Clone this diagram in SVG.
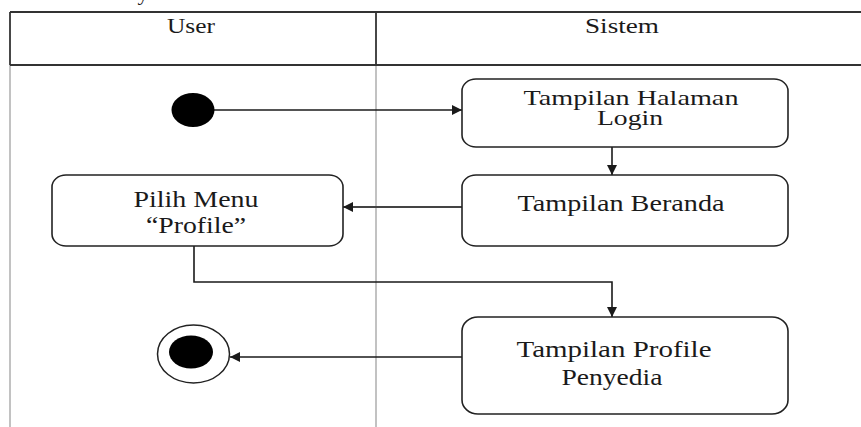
<svg xmlns="http://www.w3.org/2000/svg" width="861" height="427" viewBox="0 0 861 427">
<style>
text{font-family:"Liberation Serif","Times New Roman",serif;fill:#1a1a1a;text-anchor:middle}
.hdr{font-size:21px}
.lbl{font-size:23px}
.box{fill:#fff;stroke:#222;stroke-width:1.6}
.lane{stroke:#999;stroke-width:1.2;fill:none}
.head{stroke:#333;stroke-width:1.8;fill:none}
.con{stroke:#1a1a1a;stroke-width:1.6;fill:none}
</style>
<defs>
<marker id="ah" viewBox="0 0 10 10" refX="10" refY="5" markerWidth="10" markerHeight="10" markerUnits="userSpaceOnUse" orient="auto">
<path d="M0,0 L10,5 L0,10 Z" fill="#1a1a1a"/>
</marker>
</defs>
<rect width="861" height="427" fill="#fff"/>
<text x="143" y="0" style="font-size:22px">y</text>
<g id="swimlanes">
<line class="lane" x1="10" y1="65" x2="10" y2="427"/>
<line class="lane" x1="376" y1="65" x2="376" y2="427"/>
<line class="head" x1="10" y1="12" x2="861" y2="12"/>
<line class="head" x1="10" y1="65" x2="861" y2="65"/>
<line class="head" x1="10" y1="12" x2="10" y2="65"/>
<line class="head" x1="376" y1="12" x2="376" y2="65"/>
<text class="hdr" x="191" y="33" textLength="48" lengthAdjust="spacingAndGlyphs">User</text>
<text class="hdr" x="622" y="33" textLength="74" lengthAdjust="spacingAndGlyphs">Sistem</text>
</g>
<g id="connectors">
<line class="con" x1="214" y1="110" x2="462" y2="110" marker-end="url(#ah)"/>
<line class="con" x1="612" y1="147" x2="612" y2="175" marker-end="url(#ah)"/>
<line class="con" x1="462" y1="207" x2="343" y2="207" marker-end="url(#ah)" style="stroke-width:2.2;stroke:#444"/>
<polyline class="con" points="194,246 194,282 612,282 612,317" marker-end="url(#ah)"/>
<line class="con" x1="462" y1="357" x2="230" y2="357" marker-end="url(#ah)"/>
</g>
<g id="start">
<ellipse cx="193" cy="110" rx="21.5" ry="17" fill="#000"/>
</g>
<g id="login">
<rect class="box" x="462" y="79" width="326" height="68" rx="14" ry="12"/>
<text class="lbl" x="631" y="105" style="font-size:22px" textLength="215" lengthAdjust="spacingAndGlyphs">Tampilan Halaman</text>
<text class="lbl" x="630" y="125" style="font-size:22px" textLength="66" lengthAdjust="spacingAndGlyphs">Login</text>
</g>
<g id="beranda">
<rect class="box" x="462" y="175" width="326" height="71" rx="14" ry="12"/>
<text class="lbl" x="621" y="211" textLength="207" lengthAdjust="spacingAndGlyphs">Tampilan Beranda</text>
</g>
<g id="pilih">
<rect class="box" x="52" y="175" width="291" height="71" rx="14" ry="12"/>
<text class="lbl" x="196" y="207" textLength="125" lengthAdjust="spacingAndGlyphs">Pilih Menu</text>
<text class="lbl" x="196" y="233" textLength="100" lengthAdjust="spacingAndGlyphs">“Profile”</text>
</g>
<g id="profile">
<rect class="box" x="462" y="317" width="326" height="97" rx="16" ry="14"/>
<text class="lbl" x="614" y="357" textLength="195" lengthAdjust="spacingAndGlyphs">Tampilan Profile</text>
<text class="lbl" x="612" y="385" textLength="101" lengthAdjust="spacingAndGlyphs">Penyedia</text>
</g>
<g id="end">
<ellipse cx="193.5" cy="354" rx="36" ry="29" fill="#fff" stroke="#222" stroke-width="1.5"/>
<ellipse cx="191" cy="352" rx="22" ry="16.5" fill="#000"/>
</g>
</svg>
